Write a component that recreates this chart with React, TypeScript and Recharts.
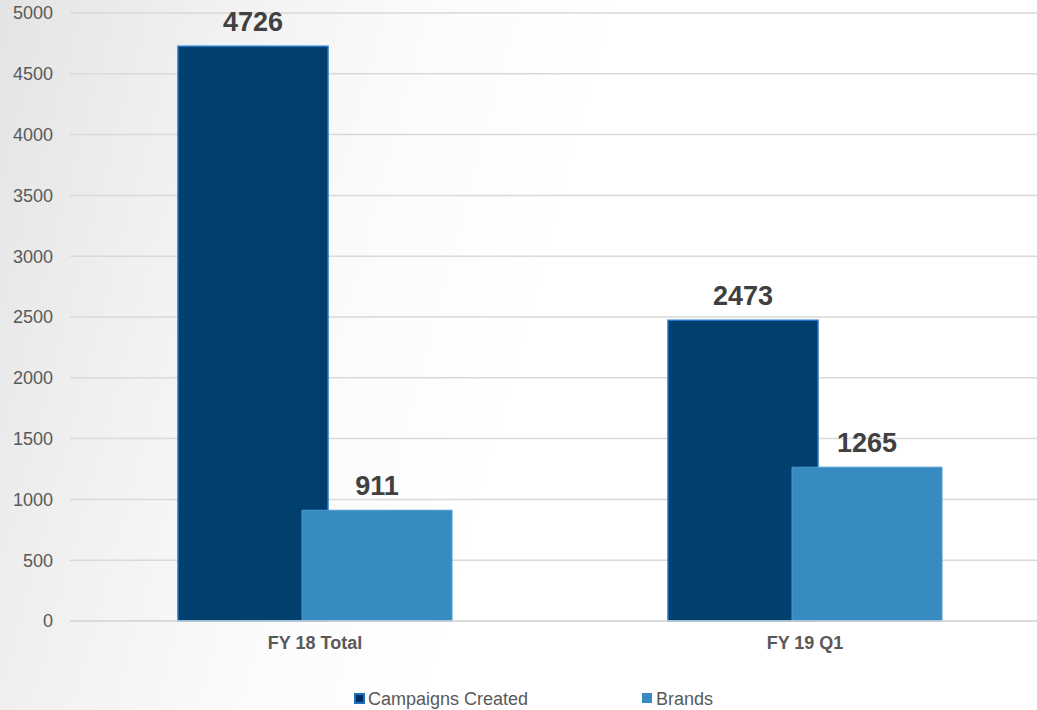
import React from "react";
import { BarChart, Bar, XAxis, YAxis, CartesianGrid, LabelList } from "recharts";

const categories = ["FY 18 Total", "FY 19 Q1"];
const campaignsCreated = [4726, 2473];
const brands = [911, 1265];
const yTicks = [0, 500, 1000, 1500, 2000, 2500, 3000, 3500, 4000, 4500, 5000];
const seriesNames = ["Campaigns Created", "Brands"];

const data = categories.map((c, i) => ({
  name: c,
  campaigns: campaignsCreated[i],
  brands: brands[i],
}));

const FONT = "'Liberation Sans', Arial, sans-serif";

export default function App() {
  return (
    <div
      style={{
        position: "absolute",
        left: 0,
        top: 0,
        width: 1037,
        height: 710,
        overflow: "hidden",
        background:
          "linear-gradient(105deg, #e4e4e4 0%, #f1f1f1 18%, #fbfbfb 35%, #ffffff 50%, #ffffff 100%)",
        fontFamily: FONT,
      }}
    >
      <BarChart
        width={1060}
        height={710}
        data={data}
        margin={{ top: 13, right: 10, left: 0, bottom: 49 }}
        barSize={150}
        barGap={-26}
      >
        <CartesianGrid vertical={false} stroke="#d9d9d9" strokeWidth={1.5} />
        <XAxis
          dataKey="name"
          axisLine={{ stroke: "#d9d9d9", strokeWidth: 1.5 }}
          tickLine={false}
          tickSize={0}
          tickMargin={15}
          height={40}
          tick={{ fill: "#595959", fontSize: 18, fontWeight: "bold", fontFamily: FONT }}
        />
        <YAxis
          domain={[0, 5000]}
          ticks={yTicks}
          width={70}
          axisLine={false}
          tickLine={false}
          tickSize={0}
          tickMargin={17}
          interval={0}
          tick={{ fill: "#595959", fontSize: 18, fontFamily: FONT }}
        />
        <Bar
          dataKey="campaigns"
          name={seriesNames[0]}
          fill="#003f6e"
          stroke="#1f78c8"
          strokeWidth={1.5}
          isAnimationActive={false}
        >
          <LabelList
            dataKey="campaigns"
            position="top"
            offset={15}
            style={{ fill: "#404040", fontSize: 27, fontWeight: "bold", fontFamily: FONT }}
          />
        </Bar>
        <Bar
          dataKey="brands"
          name={seriesNames[1]}
          fill="#388bc1"
          stroke="#4b9ad0"
          strokeWidth={1}
          isAnimationActive={false}
        >
          <LabelList
            dataKey="brands"
            position="top"
            offset={15}
            style={{ fill: "#404040", fontSize: 27, fontWeight: "bold", fontFamily: FONT }}
          />
        </Bar>
      </BarChart>
      <div
        style={{
          position: "absolute",
          left: 354,
          top: 693,
          width: 7,
          height: 7,
          background: "#002d62",
          border: "2px solid #1f6fb8",
        }}
      />
      <div
        style={{
          position: "absolute",
          left: 368,
          top: 690,
          fontSize: 18,
          lineHeight: "18px",
          color: "#595959",
          whiteSpace: "nowrap",
        }}
      >
        {seriesNames[0]}
      </div>
      <div
        style={{
          position: "absolute",
          left: 642,
          top: 693,
          width: 10,
          height: 10,
          background: "#388bc1",
        }}
      />
      <div
        style={{
          position: "absolute",
          left: 656,
          top: 690,
          fontSize: 18,
          lineHeight: "18px",
          color: "#595959",
          whiteSpace: "nowrap",
        }}
      >
        {seriesNames[1]}
      </div>
    </div>
  );
}
